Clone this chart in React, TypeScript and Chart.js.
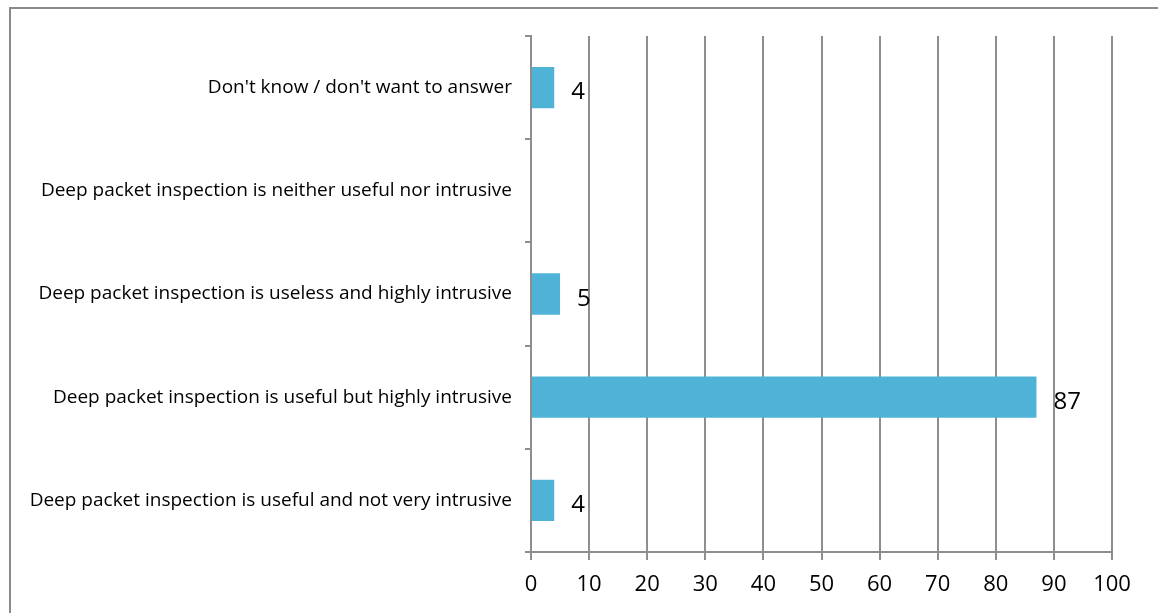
import React, { useEffect, useRef } from "react";
import { Chart, registerables } from "chart.js";

Chart.register(...registerables);

const categories = [
  "Don't know / don't want to answer",
  "Deep packet inspection is neither useful nor intrusive",
  "Deep packet inspection is useless and highly intrusive",
  "Deep packet inspection is useful but highly intrusive",
  "Deep packet inspection is useful and not very intrusive",
];
const values: (number | null)[] = [4, null, 5, 87, 4];
const xTicks = [0, 10, 20, 30, 40, 50, 60, 70, 80, 90, 100];

const FONT = "'Open Sans', 'Noto Sans', sans-serif";
const GRID = "#8e8e8e";
const BAR = "#4fb3d7";

// Writes each bar's value just past its end.
const valueLabels = {
  id: "valueLabels",
  afterDatasetsDraw(chart: any) {
    const ctx = chart.ctx;
    const meta = chart.getDatasetMeta(0);
    ctx.save();
    ctx.font = `24px ${FONT}`;
    ctx.fillStyle = "#000";
    ctx.textAlign = "left";
    ctx.textBaseline = "middle";
    meta.data.forEach((el: any, i: number) => {
      const v = values[i];
      if (v === null || v === undefined) return;
      ctx.fillText(String(v), el.x + 17, el.y + 5);
    });
    ctx.restore();
  },
};

export default function App() {
  const ref = useRef<HTMLCanvasElement>(null);

  useEffect(() => {
    if (!ref.current) return;
    const chart = new Chart(ref.current, {
      type: "bar",
      data: {
        labels: categories,
        datasets: [
          {
            data: values,
            backgroundColor: BAR,
            borderWidth: 0,
            barPercentage: 0.4,
            categoryPercentage: 1,
          },
        ],
      },
      plugins: [valueLabels],
      options: {
        indexAxis: "y",
        animation: false,
        responsive: false,
        maintainAspectRatio: false,
        layout: { padding: { top: 36, right: 46, left: 0, bottom: 0 } },
        plugins: {
          legend: { display: false },
          tooltip: { enabled: false },
        },
        scales: {
          x: {
            min: 0,
            max: 100,
            afterBuildTicks: (scale: any) => {
              scale.ticks = xTicks.map((v) => ({ value: v }));
            },
            afterFit: (scale: any) => {
              scale.height = 61;
            },
            grid: {
              color: GRID,
              lineWidth: 2,
              tickLength: 8,
              drawTicks: true,
            },
            border: { display: true, color: GRID, width: 2 },
            ticks: {
              color: "#000",
              font: { family: FONT, size: 22 },
              padding: 12,
              maxRotation: 0,
            },
          },
          y: {
            afterFit: (scale: any) => {
              scale.width = 531;
            },
            grid: {
              offset: true,
              drawOnChartArea: false,
              drawTicks: true,
              tickLength: 6,
              color: GRID,
              lineWidth: 2,
            },
            border: { display: true, color: GRID, width: 2 },
            ticks: {
              color: "#000",
              font: { family: FONT, size: 19 },
              padding: 13,
            },
          },
        },
      },
    });
    return () => chart.destroy();
  }, []);

  return (
    <div style={{ position: "fixed", left: 0, top: 0, width: 1158, height: 613, background: "#fff" }}>
      <div
        style={{
          position: "absolute",
          left: 9,
          top: 7,
          right: -4,
          bottom: -4,
          borderTop: "2px solid #8a8a8a",
          borderLeft: "2px solid #8a8a8a",
        }}
      />
      <canvas ref={ref} width={1158} height={613} style={{ position: "absolute", left: 0, top: 0 }} />
    </div>
  );
}
